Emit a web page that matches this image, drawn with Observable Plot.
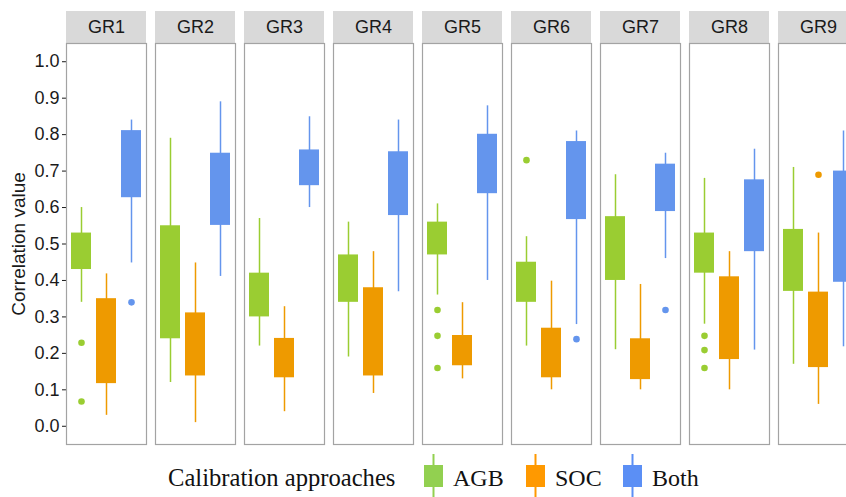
<!DOCTYPE html>
<html>
<head>
<meta charset="utf-8">
<script src="https://cdn.jsdelivr.net/npm/d3@7"></script>
<script src="https://cdn.jsdelivr.net/npm/@observablehq/plot@0.6"></script>
<style>
  html, body { margin: 0; padding: 0; background: #fff; overflow: hidden; width: 846px; height: 497px; }
  #chart { width: 846px; height: 450px; overflow: hidden; }
  #chart svg { display: block; max-width: none !important; width: 858px; height: 450px; }
  #chart svg g[aria-label="y-axis tick label"] { font-size: 18px !important; }
  #chart svg g[aria-label="y-axis label"] { font-size: 19px !important; }
  #legend svg { display: block; }
</style>
</head>
<body>
<div id="chart"></div>
<div id="legend"></div>
<script>
// ---- data ----
const groups = ["GR1", "GR2", "GR3", "GR4", "GR5", "GR6", "GR7", "GR8", "GR9"];
const approaches = ["AGB", "SOC", "Both"];
const colors = ["#9ACD32", "#EE9A00", "#6495ED"];
const legendColors = ["#92D050", "#FF9900", "#5B8FF5"];
const yTicks = [0.0, 0.1, 0.2, 0.3, 0.4, 0.5, 0.6, 0.7, 0.8, 0.9, 1.0];

// box statistics per group (GR1..GR9)
const agbLow  = [0.34, 0.12, 0.22, 0.19, 0.36, 0.22, 0.21, 0.28, 0.17];
const agbQ1   = [0.43, 0.24, 0.30, 0.34, 0.47, 0.34, 0.40, 0.42, 0.37];
const agbQ3   = [0.53, 0.55, 0.42, 0.47, 0.56, 0.45, 0.575, 0.53, 0.54];
const agbHigh = [0.60, 0.79, 0.57, 0.56, 0.61, 0.52, 0.69, 0.68, 0.71];

const socLow  = [0.03, 0.01, 0.04, 0.09, 0.13, 0.10, 0.10, 0.10, 0.06];
const socQ1   = [0.117, 0.138, 0.133, 0.138, 0.166, 0.133, 0.128, 0.183, 0.161];
const socQ3   = [0.35, 0.311, 0.241, 0.38, 0.249, 0.269, 0.24, 0.41, 0.368];
const socHigh = [0.418, 0.448, 0.328, 0.479, 0.339, 0.398, 0.389, 0.479, 0.53];

const bothLow  = [0.448, 0.411, 0.60, 0.369, 0.40, 0.279, 0.46, 0.209, 0.218];
const bothQ1   = [0.627, 0.551, 0.66, 0.578, 0.638, 0.567, 0.589, 0.479, 0.395];
const bothQ3   = [0.811, 0.749, 0.758, 0.753, 0.801, 0.781, 0.719, 0.676, 0.70];
const bothHigh = [0.84, 0.89, 0.849, 0.84, 0.879, 0.81, 0.749, 0.76, 0.81];

// outliers
const outlierGroup    = ["GR1", "GR1", "GR1", "GR5", "GR5", "GR5", "GR6", "GR6", "GR7", "GR8", "GR8", "GR8", "GR9"];
const outlierApproach = ["AGB", "AGB", "Both", "AGB", "AGB", "AGB", "AGB", "Both", "Both", "AGB", "AGB", "AGB", "SOC"];
const outlierValue    = [0.229, 0.068, 0.34, 0.319, 0.248, 0.16, 0.73, 0.239, 0.319, 0.248, 0.209, 0.16, 0.69];

// ---- build tables ----
const statSets = {
  AGB: [agbLow, agbQ1, agbQ3, agbHigh],
  SOC: [socLow, socQ1, socQ3, socHigh],
  Both: [bothLow, bothQ1, bothQ3, bothHigh]
};
const stats = [];
groups.forEach((g, i) => {
  approaches.forEach(a => {
    const [lo, q1, q3, hi] = statSets[a];
    stats.push({group: g, approach: a, low: lo[i], q1: q1[i], q3: q3[i], high: hi[i]});
  });
});
const outliers = outlierValue.map((v, i) => ({group: outlierGroup[i], approach: outlierApproach[i], value: v}));

const yMax = 1.05;

const chart = Plot.plot({
  width: 858,
  height: 450,
  marginLeft: 66,
  marginRight: 0,
  marginTop: 43,
  marginBottom: 6,
  style: {fontFamily: "'Liberation Sans', Arial, sans-serif", fontSize: "16px", color: "#1a1a1a", background: "white", overflow: "visible", maxWidth: "none"},
  fx: {domain: groups, paddingInner: 9 / 89, paddingOuter: 0, round: false, axis: null, label: null},
  x: {domain: approaches, paddingInner: 0.2, paddingOuter: 0.2, round: false, axis: null},
  y: {domain: [-0.05, yMax], ticks: yTicks, tickFormat: ".1f", tickSize: 4, tickPadding: 3,
      label: "Correlation value", labelAnchor: "center", labelOffset: 55, labelArrow: "none"},
  color: {domain: approaches, range: colors},
  marks: [
    Plot.barY(groups, {fx: d => d, y1: yMax, y2: yMax, insetTop: -32, fill: "#D9D9D9"}),
    Plot.text(groups, {fx: d => d, text: d => d, frameAnchor: "top", lineAnchor: "middle", dy: -16, fontSize: 18, fill: "#1a1a1a"}),
    Plot.frame({stroke: "#A3A3A3", strokeWidth: 1.2}),
    Plot.ruleX(stats, {fx: "group", x: "approach", y1: "low", y2: "high", stroke: "approach", strokeWidth: 1.5}),
    Plot.barY(stats, {fx: "group", x: "approach", y1: "q1", y2: "q3", fill: "approach"}),
    Plot.dot(outliers, {fx: "group", x: "approach", y: "value", fill: "approach", r: 3.3, stroke: "none"})
  ]
});
document.getElementById("chart").appendChild(chart);

// ---- legend ----
const lg = d3.select("#legend").append("svg").attr("width", 846).attr("height", 47)
  .style("font-family", "'Liberation Serif', 'Times New Roman', serif");
lg.append("text").attr("x", 168).attr("y", 36).attr("font-size", 24.6).attr("fill", "#111")
  .text("Calibration approaches");
const keyX = [424, 526, 623];
approaches.forEach((a, i) => {
  const g = lg.append("g").attr("transform", `translate(${keyX[i]},0)`);
  g.append("line").attr("x1", 9.5).attr("x2", 9.5).attr("y1", 4).attr("y2", 47)
    .attr("stroke", legendColors[i]).attr("stroke-width", 2);
  g.append("rect").attr("x", 0).attr("y", 15).attr("width", 19).attr("height", 22).attr("fill", legendColors[i]);
  g.append("text").attr("x", 29).attr("y", 36).attr("font-size", 24).attr("fill", "#111").text(a);
});
</script>
</body>
</html>
